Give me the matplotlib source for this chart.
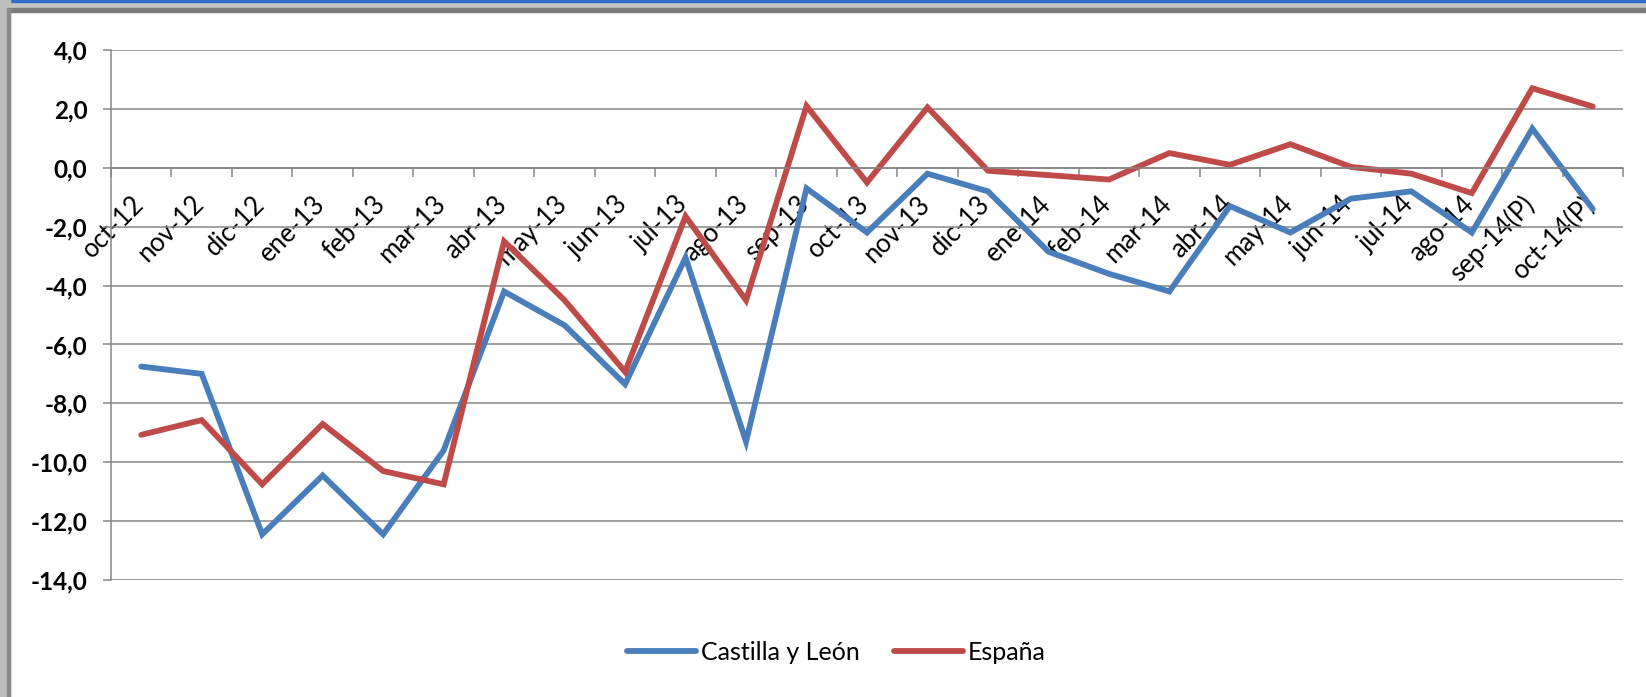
import matplotlib.pyplot as plt
import numpy as np
from matplotlib.patches import Rectangle

plt.rcParams['font.family'] = ['Lato', 'DejaVu Sans']

months = ['oct-12', 'nov-12', 'dic-12', 'ene-13', 'feb-13', 'mar-13', 'abr-13',
          'may-13', 'jun-13', 'jul-13', 'ago-13', 'sep-13', 'oct-13', 'nov-13',
          'dic-13', 'ene-14', 'feb-14', 'mar-14', 'abr-14', 'may-14', 'jun-14',
          'jul-14', 'ago-14', 'sep-14(P)', 'oct-14(P)']

castilla_leon = [-6.75, -7.0, -12.45, -10.45, -12.45, -9.6, -4.2, -5.35, -7.35, -3.05,
                 -9.3, -0.7, -2.2, -0.2, -0.8, -2.85, -3.6, -4.2, -1.3, -2.2,
                 -1.05, -0.8, -2.2, 1.33, -1.4]
espana = [-9.07, -8.57, -10.75, -8.7, -10.3, -10.75, -2.5, -4.5, -6.93, -1.65,
          -4.5, 2.1, -0.5, 2.05, -0.1, -0.25, -0.4, 0.5, 0.1, 0.8,
          0.03, -0.2, -0.86, 2.7, 2.08]

y_ticks = np.arange(-14, 4.1, 2)

blue = '#4A7EBB'
red = '#BE4B48'
grid_col = '#868686'

fig = plt.figure(figsize=(16.46, 6.97), dpi=100)
ax = fig.add_axes([111 / 1646, 1 - 580 / 697, (1623 - 111) / 1646, 530 / 697])

x = np.arange(len(months))
ax.plot(x, castilla_leon, color=blue, lw=4.2, label='Castilla y León',
        solid_joinstyle='miter', solid_capstyle='round')
ax.plot(x, espana, color=red, lw=4.2, label='España',
        solid_joinstyle='miter', solid_capstyle='round')

ax.set_xlim(-0.5, len(months) - 0.5)
ax.set_ylim(-14, 4)
ax.set_yticks(y_ticks)
ax.set_yticklabels([f'{v:.1f}'.replace('.', ',') for v in y_ticks],
                   fontsize=17.5, fontweight='bold')
ax.yaxis.grid(True, color=grid_col, lw=1.1)
ax.set_axisbelow(True)
ax.tick_params(axis='y', length=6, width=1.1, color=grid_col, pad=11)

# category axis crosses at 0
ax.spines['bottom'].set_position(('data', 0))
ax.spines['bottom'].set_color(grid_col)
ax.spines['bottom'].set_linewidth(1.1)
ax.spines['left'].set_color(grid_col)
ax.spines['left'].set_linewidth(1.1)
ax.spines['top'].set_visible(False)
ax.spines['right'].set_visible(False)

ax.set_xticks(np.arange(-0.5, len(months), 1))
ax.set_xticklabels([])
ax.tick_params(axis='x', which='major', length=6.5, width=1.1, color=grid_col)
ax.set_xticks(x + 0.12, minor=True)
ax.set_xticklabels(months, minor=True, rotation=45, ha='right', va='top',
                   fontsize=18.5)
ax.tick_params(axis='x', which='minor', length=0, pad=17)

fig.legend(loc='center', bbox_to_anchor=(0.508, 1 - 652 / 697), ncol=2, frameon=False,
           fontsize=18, handlelength=2.76, handletextpad=0.2, columnspacing=1.36)

# window frame from the screenshot
fig.patches.append(Rectangle((0, 1 - 12 / 697), 1, 12 / 697, transform=fig.transFigure,
                             color='#c4c4c4', zorder=0))
fig.patches.append(Rectangle((0, 1 - 12 / 697), 1, 4 / 697, transform=fig.transFigure,
                             color='#7a7a7a', zorder=0))
fig.patches.append(Rectangle((0, 1 - 2 / 697), 1, 2 / 697, transform=fig.transFigure,
                             color='#2f6fc8', zorder=0))
fig.patches.append(Rectangle((0, 0), 10 / 1646, 1, transform=fig.transFigure,
                             color='#bdbdbd', zorder=0))
fig.patches.append(Rectangle((7 / 1646, 0), 3 / 1646, 1 - 8 / 697, transform=fig.transFigure,
                             color='#8a8a8a', zorder=0))

fig.savefig('out.png', dpi=100)
